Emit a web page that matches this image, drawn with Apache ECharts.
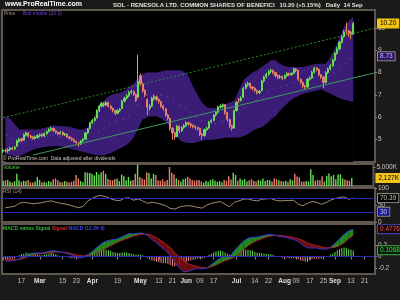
<!DOCTYPE html>
<html>
<head>
<meta charset="utf-8">
<script src="https://cdn.jsdelivr.net/npm/echarts@6/dist/echarts.min.js"></script>
<style>
html, body { margin: 0; padding: 0; background: #1a1a1a; }
#chart { width: 400px; height: 300px; }
</style>
</head>
<body>
<div id="chart"></div>
<script>
// trading days, Feb 4 - Sep 14 2010, plus empty days to the right edge
const febDays = [4,5,8,9,10,11,12,16,17,18,19,22,23,24,25,26];
const marDays = [1,2,3,4,5,8,9,10,11,12,15,16,17,18,19,22,23,24,25,26,29,30,31];
const aprDays = [1,5,6,7,8,9,12,13,14,15,16,19,20,21,22,23,26,27,28,29,30];
const mayDays = [3,4,5,6,7,10,11,12,13,14,17,18,19,20,21,24,25,26,27,28];
const junDays = [1,2,3,4,7,8,9,10,11,14,15,16,17,18,21,22,23,24,25,28,29,30];
const julDays = [1,2,6,7,8,9,12,13,14,15,16,19,20,21,22,23,26,27,28,29,30];
const augDays = [2,3,4,5,6,9,10,11,12,13,16,17,18,19,20,23,24,25,26,27,30,31];
const sepDays = [1,2,3,7,8,9,10,13,14,15,16,17,20,21,22,23,24,27];

const tickDates = ['02-17','03-01','03-15','03-23','04-01','04-19','05-03','05-13','05-21','06-01','06-09','06-17','07-01','07-14','07-22','08-02','08-09','08-17','08-25','09-01','09-13','09-21'];
const tickText  = ['17','Mar','15','23','Apr','19','May','13','21','Jun','09','17','Jul','14','22','Aug','09','17','25','Sep','13','21'];

// [open, close, low, high]
const ohlc = [
[4.48,4.52,4.40,4.60],[4.52,4.50,4.42,4.58],
[4.50,4.55,4.42,4.62],[4.55,4.62,4.50,4.68],[4.64,4.58,4.52,4.68],[4.58,4.66,4.55,4.72],[4.70,4.95,4.68,5.00],
[4.92,5.02,4.88,5.08],[5.04,4.96,4.90,5.08],[4.98,5.22,4.96,5.28],[5.20,5.30,5.14,5.36],[5.30,5.15,5.10,5.34],
[5.16,5.10,5.04,5.22],[5.12,5.05,5.00,5.16],[5.04,5.12,5.00,5.18],[5.10,5.18,5.06,5.24],[5.18,5.22,5.12,5.28],
[5.24,5.16,5.10,5.28],[5.16,5.28,5.12,5.32],[5.26,5.36,5.22,5.42],[5.36,5.45,5.32,5.52],[5.44,5.50,5.38,5.58],
[5.50,5.40,5.34,5.54],[5.40,5.32,5.26,5.44],[5.32,5.26,5.20,5.36],[5.26,5.33,5.22,5.38],[5.34,5.22,5.18,5.36],
[5.22,5.25,5.16,5.30],[5.24,5.12,5.08,5.28],[5.12,5.06,5.00,5.16],[5.06,5.00,4.94,5.10],[5.00,4.92,4.86,5.02],
[4.92,4.86,4.80,4.96],[4.86,4.80,4.68,4.90],[4.80,4.94,4.76,4.98],[4.94,5.02,4.90,5.06],[5.02,5.30,5.00,5.34],
[5.30,5.48,5.26,5.52],[5.50,5.76,5.46,5.80],[5.76,5.86,5.70,5.92],[5.86,5.95,5.80,6.02],[5.98,6.30,5.94,6.36],
[6.30,6.50,6.24,6.56],[6.50,6.62,6.44,6.70],[6.62,6.55,6.46,6.68],[6.55,6.66,6.50,6.72],[6.66,6.50,6.44,6.70],
[6.50,6.40,6.34,6.54],[6.40,6.30,6.22,6.44],[6.30,6.18,6.10,6.34],[6.18,6.30,6.14,6.36],[6.30,6.36,6.24,6.42],
[6.40,6.72,6.36,6.78],[6.72,6.86,6.66,6.92],[6.86,6.96,6.80,7.04],[6.96,7.10,6.90,7.18],[7.10,7.16,7.02,7.24],
[7.16,7.02,6.96,7.20],[7.02,6.74,6.68,7.06],[6.90,7.60,6.86,8.80],[7.86,7.50,7.40,7.96],[7.50,7.18,7.10,7.56],
[7.20,7.00,6.90,7.26],[6.80,6.45,6.10,6.84],[6.40,6.50,6.30,6.60],[6.50,6.86,6.46,6.92],[6.84,6.92,6.74,7.00],
[6.92,6.80,6.72,6.98],[6.80,6.70,6.60,6.84],[6.70,6.50,6.42,6.74],[6.50,6.38,6.30,6.56],[6.38,6.10,6.02,6.42],
[6.10,5.95,5.86,6.16],[5.95,5.50,5.40,5.98],[5.50,5.30,5.00,5.56],[5.30,5.12,5.00,5.34],[5.14,5.60,5.10,5.66],
[5.60,5.40,5.30,5.64],[5.40,5.55,5.34,5.60],[5.55,5.62,5.48,5.70],[5.62,5.76,5.56,5.82],[5.76,5.70,5.62,5.80],
[5.70,5.64,5.54,5.74],[5.64,5.60,5.50,5.68],[5.60,5.54,5.44,5.64],[5.54,5.50,5.40,5.58],[5.50,5.24,5.16,5.54],
[5.24,5.18,5.00,5.30],[5.18,5.45,5.14,5.50],[5.45,5.52,5.38,5.58],[5.52,5.80,5.48,5.84],[5.80,5.86,5.72,5.92],
[5.86,6.10,5.82,6.14],[6.10,6.22,6.04,6.28],[6.22,6.46,6.18,6.52],[6.46,6.50,6.40,6.58],[6.50,6.56,6.42,6.62],
[6.56,6.20,6.12,6.58],[6.20,5.90,5.80,6.24],[5.90,5.62,5.50,5.94],[5.62,5.50,5.40,5.66],[5.52,6.30,5.50,6.34],
[6.30,6.66,6.26,6.72],[6.80,6.76,6.64,6.86],[6.76,6.86,6.70,6.94],[6.90,7.30,6.86,7.36],[7.30,7.46,7.24,7.54],
[7.46,7.52,7.38,7.60],[7.52,7.36,7.28,7.56],[7.36,7.30,7.20,7.40],[7.30,7.20,7.12,7.34],[7.20,7.10,7.02,7.24],
[7.10,7.16,7.04,7.22],[7.20,7.62,7.16,7.68],[7.62,7.80,7.56,7.86],[7.80,7.92,7.74,8.00],[7.92,8.06,7.86,8.12],
[8.06,8.10,7.98,8.18],[8.10,8.00,7.92,8.14],[8.00,7.86,7.78,8.04],[7.86,7.80,7.70,7.92],[7.80,7.82,7.72,7.90],
[7.82,7.74,7.66,7.86],[7.74,7.86,7.70,7.92],[7.86,7.96,7.80,8.02],[7.96,7.90,7.84,8.00],[7.90,7.96,7.86,8.02],
[7.96,8.16,7.92,8.22],[8.16,8.10,8.02,8.20],[8.10,7.70,7.62,8.12],[7.70,7.56,7.48,7.74],[7.56,7.40,7.30,7.60],
[7.40,7.36,7.26,7.46],[7.36,7.70,7.32,7.76],[7.70,7.76,7.64,7.84],[7.76,8.02,7.72,8.08],[8.02,8.20,7.96,8.26],
[8.20,8.14,8.06,8.24],[8.14,7.90,7.84,8.18],[7.90,7.80,7.72,7.94],[7.80,7.56,7.30,7.84],[7.56,8.00,7.52,8.06],
[8.00,8.16,7.94,8.22],[8.16,8.30,8.10,8.38],[8.30,8.56,8.26,8.62],[8.56,8.86,8.50,8.92],[8.86,9.06,8.80,9.14],
[9.06,9.36,9.00,9.42],[9.36,9.60,9.30,9.68],[9.60,9.82,9.56,9.90],[9.90,9.86,9.70,10.24],[9.86,9.74,9.60,9.92],
[9.80,9.70,9.50,9.86],[9.72,10.20,9.68,10.26]
];

// volume, thousands
const volumes = [
1400,1500,
1600,1200,900,1300,3200,1500,1100,1400,1300,1600,1000,900,1200,2400,1600,1000,1100,900,1300,1100,
1800,2000,1500,1100,1000,1300,1200,900,1100,1400,2900,2000,1300,1000,3600,3500,3400,3200,2800,3700,
3000,3600,4000,3200,1900,1600,1500,1800,2000,1300,3000,2600,1500,2400,1400,1600,3200,5600,2400,2000,
1700,3600,3400,2000,3200,2900,1500,1400,1800,1200,1600,5000,3500,3000,2000,1600,1200,1800,2000,2400,
2000,1600,1400,1500,1600,1200,900,1400,1100,1600,1800,1400,1100,1300,1000,1600,1400,2600,1700,3500,
2900,1400,2000,1600,1800,1200,1500,1800,1400,1200,1600,1400,2000,1300,1600,1500,1200,2000,1800,1500,
1300,1200,1400,1100,1800,1500,3200,2500,2300,1200,1100,1300,1200,4400,2900,1400,1600,1500,2600,1200,
2700,3300,2600,2900,1800,3000,3100,2000,1700,1500,1400,2127
];

// every second day (odd day index)
const bbUpper = [6.05,5.95,5.70,5.45,5.45,5.45,5.45,5.45,5.50,5.55,5.62,5.62,5.60,5.60,5.58,5.52,5.45,5.45,5.55,5.90,6.25,
6.60,6.85,7.00,7.05,7.10,7.20,7.35,7.50,7.75,7.95,8.00,8.00,8.00,8.05,8.10,8.10,8.10,8.10,8.05,7.85,
7.35,7.00,6.65,6.45,6.40,6.42,6.50,6.60,6.65,6.75,7.20,7.65,7.85,8.00,8.10,8.25,8.40,8.55,8.55,8.40,
8.30,8.25,8.25,8.25,8.25,8.30,8.35,8.40,8.40,8.40,8.70,9.10,9.55,10.05,10.30,10.50];
const bbLower = [4.32,4.30,4.25,4.25,4.35,4.45,4.55,4.62,4.65,4.68,4.70,4.72,4.70,4.65,4.60,4.55,4.50,4.45,4.40,4.35,4.30,
4.30,4.32,4.40,4.50,4.60,4.70,4.85,5.10,5.50,5.90,6.00,6.05,6.05,5.95,5.80,5.55,5.25,5.00,4.90,4.85,
4.85,4.90,4.95,5.00,5.00,5.02,5.05,5.08,5.10,5.10,5.10,5.15,5.25,5.40,5.50,5.55,5.70,5.90,6.05,6.30,
6.50,6.70,6.85,6.95,7.05,7.10,7.15,7.20,7.25,7.15,7.05,6.95,6.85,6.78,6.74,6.70];
const bbMiddle = [5.18,5.12,4.98,4.85,4.90,4.95,5.00,5.04,5.08,5.12,5.16,5.17,5.15,5.12,5.09,5.04,4.98,4.95,4.98,5.12,5.28,
5.45,5.58,5.70,5.78,5.85,5.95,6.10,6.30,6.62,6.92,7.00,7.02,7.02,7.00,6.95,6.82,6.68,6.55,6.48,6.35,
6.10,5.95,5.80,5.72,5.70,5.72,5.78,5.84,5.88,5.92,6.15,6.40,6.55,6.70,6.80,6.90,7.05,7.22,7.30,7.35,
7.40,7.48,7.55,7.60,7.65,7.70,7.75,7.80,7.80,7.80,7.90,8.02,8.16,8.35,8.55,8.73];
const rsiVals = [42,44,46,55,58,56,54,55,57,60,62,58,55,53,50,46,42,46,62,70,76,
78,74,68,64,63,70,71,64,68,62,55,58,56,52,48,40,38,44,47,48,
46,43,41,50,55,58,60,52,45,58,62,67,68,64,62,67,68,69,64,62,
63,63,64,52,48,55,60,58,52,57,64,69,72,74,67,70.39];
const macdVals = [-0.085,-0.08,-0.07,-0.04,0.00,0.04,0.06,0.06,0.06,0.08,0.10,0.10,0.08,0.06,0.04,0.01,-0.02,-0.02,0.03,0.09,0.16,
0.23,0.27,0.29,0.30,0.33,0.37,0.40,0.40,0.41,0.41,0.37,0.30,0.24,0.17,0.10,0.02,-0.10,-0.20,-0.27,-0.26,
-0.23,-0.21,-0.22,-0.20,-0.14,-0.08,-0.02,0.00,0.00,0.10,0.19,0.27,0.32,0.34,0.34,0.36,0.38,0.39,0.37,0.35,
0.34,0.32,0.30,0.26,0.20,0.15,0.15,0.15,0.13,0.13,0.16,0.23,0.31,0.39,0.45,0.4776];
const signalVals = [-0.05,-0.05,-0.055,-0.05,-0.03,0.00,0.02,0.04,0.05,0.06,0.07,0.08,0.08,0.07,0.06,0.04,0.02,0.01,0.01,0.03,0.06,
0.10,0.15,0.19,0.23,0.27,0.30,0.33,0.36,0.38,0.39,0.39,0.37,0.33,0.28,0.22,0.16,0.07,-0.01,-0.08,-0.13,
-0.16,-0.18,-0.19,-0.20,-0.18,-0.15,-0.11,-0.07,-0.05,-0.01,0.05,0.12,0.19,0.24,0.28,0.31,0.34,0.36,0.37,0.37,
0.36,0.35,0.33,0.31,0.28,0.24,0.21,0.19,0.17,0.15,0.15,0.16,0.19,0.24,0.31,0.371];
// MACD minus signal, daily
const histVals = [
-0.07,-0.065,
-0.06,-0.05,-0.04,-0.03,-0.01,0.02,0.04,0.05,0.07,0.06,0.05,0.04,0.03,0.03,0.02,0.02,0.03,0.04,0.05,0.06,
0.05,0.04,0.02,0.01,0.00,-0.01,-0.01,-0.02,-0.03,-0.03,-0.03,-0.03,-0.02,-0.01,0.02,0.04,0.06,0.08,0.10,0.11,
0.13,0.13,0.12,0.12,0.11,0.10,0.08,0.07,0.06,0.06,0.07,0.07,0.07,0.06,0.05,0.04,0.03,0.04,0.03,0.02,
0.00,-0.02,-0.05,-0.07,-0.08,-0.09,-0.10,-0.11,-0.12,-0.12,-0.13,-0.15,-0.17,-0.17,-0.16,-0.15,-0.13,-0.12,-0.10,-0.08,
-0.07,-0.06,-0.05,-0.04,-0.03,-0.03,-0.02,0.00,0.03,0.05,0.07,0.09,0.10,0.10,0.09,0.07,0.05,0.03,0.04,0.08,
0.10,0.12,0.13,0.13,0.12,0.12,0.11,0.10,0.08,0.07,0.06,0.06,0.05,0.05,0.04,0.04,0.03,0.01,-0.01,-0.01,
-0.02,-0.02,-0.02,-0.03,-0.03,-0.03,-0.04,-0.05,-0.07,-0.08,-0.09,-0.09,-0.07,-0.05,-0.04,-0.04,-0.04,-0.04,-0.03,-0.01,
0.01,0.03,0.05,0.08,0.11,0.13,0.15,0.16,0.15,0.13,0.12,0.1068
];

const trendUpper = [['02-04', 5.98], ['09-27', 9.98]];
const trendLower = [['02-24', 4.31], ['09-27', 7.98]];
const lastClose = 10.20, lastMiddle = 8.73, lastVolume = 2127, lastRsi = 70.39, lastMacd = 0.4776, lastHist = 0.1068;

const pad = n => (n < 10 ? '0' : '') + n;
const cats = [];
[['02', febDays], ['03', marDays], ['04', aprDays], ['05', mayDays], ['06', junDays], ['07', julDays], ['08', augDays], ['09', sepDays]]
  .forEach(([m, days]) => days.forEach(d => cats.push(m + '-' + pad(d))));
const N = cats.length;

function sparse(vals) {
  const out = new Array(N).fill(null);
  vals.forEach((v, k) => { out[2 * k + 1] = v; });
  return out;
}

const UP = '#66dd55', DOWN = '#e8806a';
const FONT = '"Liberation Sans", Arial, sans-serif';
const LABEL = '#c8c4bc';
const FILL_UP = '#1e8a1e', FILL_DN = '#700c0c';
const FRAME = '#5f574d';

// segments between MACD and signal, for the coloured band between them
const macdSegs = [];
for (let k = 0; k + 1 < macdVals.length; k++) {
  macdSegs.push([2 * k + 1, macdVals[k], signalVals[k], 2 * k + 3, macdVals[k + 1], signalVals[k + 1]]);
}

const volData = volumes.map((v, i) => ({ value: v, itemStyle: { color: ohlc[i][1] >= ohlc[i][0] ? UP : DOWN } }));
const histData = histVals.map(v => ({ value: v, itemStyle: { color: v >= 0 ? UP : '#ee8a8a' } }));

const tickIdx = new Set(tickDates);
const tickMap = {};
tickDates.forEach((d, k) => { tickMap[d] = tickText[k]; });

const grids = [
  { left: 2, top: 10, width: 373, height: 152 },
  { left: 2, top: 164, width: 373, height: 22 },
  { left: 2, top: 188, width: 373, height: 34 },
  { left: 2, top: 224, width: 373, height: 50 }
].map(g => Object.assign(g, { show: true, backgroundColor: '#000', borderColor: FRAME, borderWidth: 2 }));

const xAxes = grids.map((g, k) => ({
  type: 'category', gridIndex: k, data: cats, boundaryGap: true,
  axisLine: { show: false },
  axisTick: k === 3 ? { show: true, alignWithLabel: true, length: 3, interval: (i, v) => tickIdx.has(v), lineStyle: { color: '#8a8680' } } : { show: false },
  axisLabel: k === 3 ? {
    show: true, interval: (i, v) => tickIdx.has(v), margin: 4,
    formatter: v => { const t = tickMap[v]; return /[a-z]/.test(t) ? '{m|' + t + '}' : t; },
    color: LABEL, fontSize: 6.5, fontFamily: FONT,
    rich: { m: { fontWeight: 'bold', color: '#e0dcd4', fontSize: 6.5, fontFamily: FONT } }
  } : { show: false },
  splitLine: { show: false }
}));

function yAx(k, min, max, ticks, fmt) {
  return {
    type: 'value', gridIndex: k, position: 'right', min: min, max: max, scale: true,
    splitLine: { show: false }, axisLine: { show: false },
    axisTick: { show: true, length: 2, customValues: ticks, lineStyle: { color: '#8a8680' } },
    axisLabel: { customValues: ticks, formatter: fmt, color: LABEL, fontSize: 6.5, fontFamily: FONT, margin: 3 }
  };
}

function boxLine(value, text, bg, color, border) {
  return {
    yAxis: value, lineStyle: { color: 'rgba(0,0,0,0)', width: 0 },
    label: { show: true, position: 'end', distance: 3, formatter: text, backgroundColor: bg, color: color,
      borderColor: border || bg, borderWidth: 1, padding: [1, 2, 0, 2], fontSize: 6.5, fontFamily: FONT }
  };
}

const option = {
  animation: false,
  backgroundColor: '#1a1a1a',
  grid: grids,
  xAxis: xAxes,
  yAxis: [
    yAx(0, 4, 10.8, [5, 6, 7, 8, 9, 10], v => String(v)),
    yAx(1, 0, 5800, [5000], () => '5,000K'),
    yAx(2, 0, 100, [0, 50, 100], v => String(v)),
    yAx(3, -0.307, 0.57, [-0.2, 0, 0.2], v => (Math.abs(v) < 1e-9 ? '0' : v.toFixed(1)))
  ],
  graphic: [
    { type: 'text', left: 5, top: 1, style: { text: 'www.ProRealTime.com', fill: '#ffffff', font: 'bold 7px ' + FONT } },
    { type: 'text', left: 113, top: 2, style: { text: 'SOL - RENESOLA LTD. COMMON SHARES OF BENEFICI   10.20 (+5.15%)   Daily  14 Sep', fill: '#e6e0d4', font: 'bold 6px ' + FONT } },
    { type: 'text', left: 4, top: 11, style: { text: 'Price', fill: '#a09a90', font: '5px ' + FONT } },
    { type: 'text', left: 23, top: 11, style: { text: 'Boll middle (20 2)', fill: '#7a3ee0', font: '5px ' + FONT } },
    { type: 'text', left: 3, top: 156, z: 100, style: { text: '\u00a9 ProRealTime.com  Data adjusted after dividends', fill: '#c8c4bc', font: '5px ' + FONT } },
    { type: 'text', left: 3, top: 165, style: { text: 'Volume', fill: '#55cc44', font: '5px ' + FONT } },
    { type: 'text', left: 3, top: 189, style: { text: 'RSI (14)', fill: '#a09a90', font: '5px ' + FONT } },
    { type: 'text', left: 3, top: 226, style: {
      text: '{g|MACD minus Signal} {r|Signal} {b|MACD (12 26 9)}', font: '5px ' + FONT,
      rich: { g: { fill: '#33bb33', font: 'bold 5px ' + FONT }, r: { fill: '#cc3333', font: 'bold 5px ' + FONT }, b: { fill: '#4444dd', font: 'bold 5px ' + FONT } }
    } }
  ],
  series: [
    { name: 'bbUp', type: 'line', xAxisIndex: 0, yAxisIndex: 0, data: sparse(bbUpper), connectNulls: true, symbol: 'none',
      lineStyle: { width: 0 }, areaStyle: { color: '#3b1d78', opacity: 1, origin: 'start' }, z: 1, silent: true },
    { name: 'bbLow', type: 'line', xAxisIndex: 0, yAxisIndex: 0, data: sparse(bbLower), connectNulls: true, symbol: 'none',
      lineStyle: { width: 0 }, areaStyle: { color: '#000000', opacity: 1, origin: 'start' }, z: 1, silent: true },
    { name: 'bbMid', type: 'line', xAxisIndex: 0, yAxisIndex: 0, data: sparse(bbMiddle), connectNulls: true, symbol: 'none',
      lineStyle: { width: 1, color: '#7434c4', type: [2, 5] }, z: 2, silent: true },
    { name: 'price', type: 'candlestick', xAxisIndex: 0, yAxisIndex: 0, data: ohlc, barWidth: '72%', z: 3,
      itemStyle: { color: UP, color0: DOWN, borderColor: UP, borderColor0: DOWN, borderWidth: 1 },
      markLine: { silent: true, symbol: ['none', 'none'], animation: false,
        data: [
          [{ coord: trendUpper[0], lineStyle: { color: '#2e8c2e', width: 1, type: [2, 2] }, label: { show: false } }, { coord: trendUpper[1] }],
          [{ coord: trendLower[0], lineStyle: { color: '#3a9a5e', width: 1, type: 'solid' }, label: { show: false } }, { coord: trendLower[1] }],
          boxLine(lastClose, '10.20', '#f0c419', '#000000'),
          boxLine(lastMiddle, lastMiddle.toFixed(2), '#2e1663', '#c8b8f0', '#8a8680')
        ] } },
    { name: 'volume', type: 'bar', xAxisIndex: 1, yAxisIndex: 1, data: volData, barWidth: '62%',
      markLine: { silent: true, symbol: ['none', 'none'], data: [boxLine(lastVolume, '2,127K', '#f0c419', '#000000')] } },
    { name: 'rsi', type: 'line', xAxisIndex: 2, yAxisIndex: 2, data: sparse(rsiVals), connectNulls: true, symbol: 'none',
      lineStyle: { color: '#a28f70', width: 1 }, z: 3,
      markLine: { silent: true, symbol: ['none', 'none'],
        data: [
          { yAxis: 70, lineStyle: { color: '#2a2ab4', width: 1, type: 'solid' }, label: { show: false } },
          { yAxis: 30, lineStyle: { color: '#2a2ab4', width: 1, type: 'solid' }, label: { show: true, position: 'end', distance: 3, formatter: '30',
            backgroundColor: '#1a1a8c', color: '#c8c8ff', borderColor: '#8a8680', borderWidth: 1, padding: [1, 2, 0, 2], fontSize: 6.5, fontFamily: FONT } },
          boxLine(lastRsi, '70.39', '#000000', '#c8c4bc', '#8a8680')
        ] } },
    { name: 'hist', type: 'bar', xAxisIndex: 3, yAxisIndex: 3, data: histData, barWidth: 1, z: 2,
      markLine: { silent: true, symbol: ['none', 'none'], data: [boxLine(lastHist, '0.1068', '#0a1a0a', '#44dd44', '#44aa44')] } },
    { name: 'macdFill', type: 'custom', xAxisIndex: 3, yAxisIndex: 3, data: macdSegs, z: 3, silent: true,
      encode: { x: 0, y: 1 },
      renderItem: (params, api) => {
        const x1 = api.value(0), m1 = api.value(1), s1 = api.value(2);
        const x2 = api.value(3), m2 = api.value(4), s2 = api.value(5);
        const pm1 = api.coord([x1, m1]), ps1 = api.coord([x1, s1]);
        const pm2 = api.coord([x2, m2]), ps2 = api.coord([x2, s2]);
        const d1 = m1 - s1, d2 = m2 - s2;
        const poly = (pts, col) => ({ type: 'polygon', shape: { points: pts }, style: { fill: col } });
        if (d1 * d2 >= 0) {
          return poly([pm1, pm2, ps2, ps1], d1 + d2 >= 0 ? FILL_UP : FILL_DN);
        }
        const t = d1 / (d1 - d2);
        const pc = [pm1[0] + t * (pm2[0] - pm1[0]), pm1[1] + t * (pm2[1] - pm1[1])];
        return { type: 'group', children: [
          poly([pm1, pc, ps1], d1 > 0 ? FILL_UP : FILL_DN),
          poly([pc, pm2, ps2], d2 > 0 ? FILL_UP : FILL_DN)
        ] };
      } },
    { name: 'signal', type: 'line', xAxisIndex: 3, yAxisIndex: 3, data: sparse(signalVals), connectNulls: true, symbol: 'none',
      lineStyle: { color: '#b02020', width: 1 }, z: 4 },
    { name: 'macd', type: 'line', xAxisIndex: 3, yAxisIndex: 3, data: sparse(macdVals), connectNulls: true, symbol: 'none',
      lineStyle: { color: '#3434d4', width: 1 }, z: 5,
      markLine: { silent: true, symbol: ['none', 'none'],
        data: [
          { yAxis: 0, lineStyle: { color: '#2a2ab4', width: 1, type: 'solid' }, label: { show: false } },
          boxLine(lastMacd, '0.4776', '#1a0505', '#ee5555', '#4444cc')
        ] } }
  ]
};

const chart = echarts.init(document.getElementById('chart'));
chart.setOption(option);
</script>
</body>
</html>
